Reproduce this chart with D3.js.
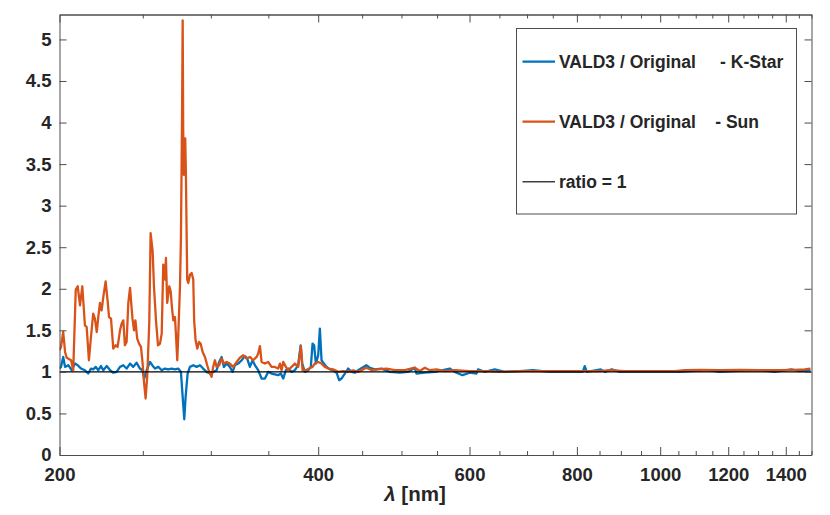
<!DOCTYPE html>
<html>
<head>
<meta charset="utf-8">
<script src="https://cdn.jsdelivr.net/npm/d3@7"></script>
<style>
  body { margin: 0; background: #fff; }
  svg text { font-family: "Liberation Sans", Arial, Helvetica, sans-serif; font-weight: bold; fill: #262626; }
</style>
</head>
<body>
<script>
// Wavelength [nm] and ratio for the Sun (VALD3 / Original)
let sunWavelength = [
  200.0, 200.8, 202.0, 203.0, 203.9, 206.3, 207.5, 208.9, 210.0, 211.3, 212.6, 214.1, 215.1, 216.4, 217.6,
  218.9, 219.9, 221.0, 221.9, 222.9, 223.9, 224.9, 226.3, 227.6, 228.4, 229.6, 231.0, 232.5, 233.7, 235.2,
  236.2, 237.3, 238.3, 239.4, 240.5, 241.6, 243.2, 244.2, 245.1, 246.3, 247.5, 248.8, 249.9, 250.8, 251.9,
  253.0, 254.4, 255.3, 256.7, 257.6, 259.0, 260.4, 261.8, 263.0, 264.1, 265.3, 266.0, 266.9, 268.4, 269.4,
  270.3, 271.3, 272.5, 273.2, 274.2, 274.9, 276.2, 276.9, 277.7, 278.2, 278.6, 279.1, 280.1, 280.6, 281.6,
  282.4, 283.7, 285.0, 286.2, 286.9, 288.0, 289.3, 290.6, 291.9, 293.5, 295.3, 297.1, 298.7, 300.6, 301.9,
  303.3, 304.7, 306.8, 308.8, 310.7, 313.0, 315.7, 318.5, 321.5, 324.3, 327.2, 330.2, 333.1, 336.1, 339.1,
  340.6, 342.2, 343.7, 346.8, 349.8, 353.0, 356.2, 359.3, 361.0, 362.6, 364.2, 366.8, 369.1, 372.5, 375.8,
  379.1, 380.8, 381.9, 383.6, 387.0, 390.4, 394.0, 396.4, 400.0, 403.6, 407.2, 410.8, 416.4, 422.0, 427.7,
  433.4, 439.3, 445.2, 455.0, 461.8, 469.3, 480.4, 491.2, 504.5, 518.2, 525.2, 532.3, 539.5, 549.2, 561.6,
  576.8, 600.4, 625.0, 650.6, 686.4, 724.2, 764.0, 806.1, 850.5, 873.6, 909.4, 972.4, 1039.8, 1068.0, 1111.7,
  1172.9, 1237.4, 1305.5, 1377.3, 1433.8, 1472.8, 1496.0
]
let sunRatio = [
  1.26, 1.30, 1.48, 1.24, 1.17, 1.14, 1.02, 1.99, 2.03, 1.80, 2.03, 1.56, 1.54, 1.14, 1.42,
  1.70, 1.64, 1.48, 1.66, 1.83, 1.74, 1.90, 2.09, 1.84, 1.66, 1.64, 1.28, 1.32, 1.30, 1.50,
  1.58, 1.62, 1.32, 1.36, 1.83, 2.01, 1.64, 1.50, 1.62, 1.40, 1.34, 1.30, 1.10, 0.88, 0.68,
  0.95, 1.60, 2.67, 2.45, 2.03, 1.62, 1.32, 1.34, 1.46, 2.29, 2.11, 2.37, 1.83, 2.03, 1.97,
  1.78, 1.62, 1.66, 1.46, 1.14, 1.42, 2.03, 2.60, 4.00, 5.23, 3.90, 3.37, 3.81, 3.40, 2.11,
  2.07, 2.17, 2.19, 2.11, 1.62, 1.38, 1.28, 1.36, 1.34, 1.24, 1.18, 1.08, 1.00, 0.94, 1.06,
  1.14, 1.06, 1.08, 1.16, 1.10, 1.12, 1.10, 1.06, 1.12, 1.17, 1.20, 1.16, 1.18, 1.14, 1.18,
  1.22, 1.31, 1.12, 1.10, 1.12, 1.06, 1.06, 1.04, 1.10, 1.02, 1.12, 1.06, 1.02, 1.06, 1.10,
  1.06, 1.22, 1.31, 1.02, 1.02, 1.04, 1.06, 1.10, 1.12, 1.10, 1.06, 1.04, 1.03, 1.00, 1.01,
  1.00, 1.02, 1.00, 1.05, 1.02, 1.03, 1.04, 1.02, 1.02, 1.05, 1.01, 1.05, 1.02, 1.03, 1.01,
  1.02, 1.01, 1.01, 1.00, 1.01, 1.01, 1.01, 1.01, 1.01, 1.02, 1.01, 1.01, 1.01, 1.02, 1.025,
  1.02, 1.025, 1.02, 1.02, 1.025, 1.03, 1.04
]

// Wavelength [nm] and ratio for the K-Star (VALD3 / Original)
let kstarWavelength = [
  200.0, 200.8, 202.0, 203.0, 204.8, 206.6, 208.5, 210.0, 211.9, 214.1, 216.0, 217.6, 218.9, 220.4, 221.9,
  223.5, 224.9, 227.0, 229.0, 231.0, 233.1, 235.2, 237.3, 239.4, 241.6, 243.7, 245.9, 248.1, 249.7, 251.0,
  252.6, 254.9, 256.4, 258.3, 260.6, 263.0, 265.3, 267.6, 270.1, 272.5, 274.9, 276.9, 278.2, 279.4, 280.4,
  281.9, 283.7, 286.2, 288.8, 291.4, 293.9, 296.6, 299.3, 301.9, 304.7, 306.8, 308.8, 310.7, 313.0, 315.7,
  318.0, 320.0, 322.8, 325.8, 328.7, 330.7, 333.1, 335.5, 337.6, 340.6, 343.7, 346.8, 349.8, 353.0, 356.2,
  359.3, 361.9, 364.2, 366.8, 369.1, 372.5, 375.8, 379.1, 381.6, 383.2, 386.0, 389.4, 392.2, 394.0, 395.7,
  397.5, 400.0, 401.8, 403.6, 406.1, 409.1, 412.7, 416.4, 420.2, 423.1, 425.8, 429.6, 433.4, 437.4, 441.3,
  445.2, 455.0, 459.4, 465.6, 474.0, 484.6, 497.8, 508.6, 518.2, 520.6, 532.3, 546.8, 569.1, 576.8, 588.8,
  600.4, 611.3, 613.9, 625.0, 642.0, 659.4, 686.4, 711.3, 743.9, 784.8, 812.6, 817.0, 821.4, 852.8, 862.0,
  878.3, 897.3, 972.4, 1053.8, 1135.8, 1172.9, 1276.8, 1311.0, 1359.0, 1421.2, 1453.2, 1496.0
]
let kstarRatio = [
  1.04, 1.06, 1.18, 1.06, 1.08, 1.02, 1.10, 1.08, 1.04, 1.02, 0.98, 1.04, 1.03, 1.06, 1.02,
  1.07, 1.02, 1.07, 1.02, 0.99, 1.00, 1.06, 1.08, 1.04, 1.10, 1.06, 1.11, 1.04, 1.02, 0.92,
  1.02, 1.12, 1.08, 1.04, 1.06, 1.02, 1.04, 1.03, 1.04, 1.03, 1.04, 1.00, 0.70, 0.43, 0.70,
  0.98, 1.06, 1.08, 1.06, 1.08, 1.04, 1.00, 0.98, 1.00, 1.02, 1.12, 1.18, 1.06, 1.10, 1.06,
  1.00, 1.08, 1.10, 1.14, 1.19, 1.16, 1.06, 1.14, 1.08, 1.02, 0.92, 0.92, 1.00, 0.98, 0.97,
  0.96, 0.98, 0.92, 1.02, 1.04, 1.00, 1.02, 1.08, 1.32, 1.10, 1.00, 1.02, 1.06, 1.34, 1.32,
  1.10, 1.20, 1.52, 1.14, 1.10, 1.06, 1.03, 1.02, 0.99, 0.90, 0.92, 0.98, 1.04, 1.00, 0.99,
  1.02, 1.08, 1.05, 1.03, 1.04, 1.00, 0.99, 1.00, 1.05, 0.98, 0.99, 1.00, 1.04, 1.00, 0.96,
  0.99, 0.98, 1.03, 1.00, 1.03, 1.00, 1.01, 1.02, 1.00, 1.00, 1.00, 1.07, 1.00, 1.03, 1.00,
  1.03, 1.00, 1.00, 1.00, 1.02, 1.00, 1.02, 1.02, 1.00, 1.03, 1.01, 1.02
]

// Axis ticks and legend
let xLimits = [200, 1500]
let yLimits = [0, 5.3]
let xMajorTicks = [200, 400, 600, 800, 1000, 1200, 1400]
let xMinorTicks = d3.range(250, 1501, 50)
let yTicks = [0, 0.5, 1, 1.5, 2, 2.5, 3, 3.5, 4, 4.5, 5]
let legendLabels = ['VALD3 / Original     - K-Star', 'VALD3 / Original    - Sun', 'ratio = 1']
let colors = ['#0072BD', '#D95319', '#000000']

function createRatioChart() {
  let width = 830
  let height = 515
  let plot = {left: 59.5, top: 14.5, right: 811.5, bottom: 455}

  let svg = d3.select('body').append('svg')
    .attr('width', width)
    .attr('height', height)

  // Scales: logarithmic wavelength, linear ratio
  let x = d3.scaleLog().domain(xLimits).range([plot.left, plot.right])
  let y = d3.scaleLinear().domain(yLimits).range([plot.bottom, plot.top])

  svg.append('clipPath').attr('id', 'plotClip')
    .append('rect')
    .attr('x', plot.left).attr('y', plot.top)
    .attr('width', plot.right - plot.left).attr('height', plot.bottom - plot.top)

  let lineGen = d3.line()
    .x(d => x(d[0]))
    .y(d => y(d[1]))

  let kstar = kstarWavelength.map((w, i) => [w, kstarRatio[i]])
  let sun = sunWavelength.map((w, i) => [w, sunRatio[i]])

  let lines = svg.append('g').attr('clip-path', 'url(#plotClip)')

  lines.append('path')
    .datum(kstar)
    .attr('d', lineGen)
    .attr('fill', 'none')
    .attr('stroke', colors[0])
    .attr('stroke-width', 2.3)
    .attr('stroke-linejoin', 'round')

  lines.append('path')
    .datum(sun)
    .attr('d', lineGen)
    .attr('fill', 'none')
    .attr('stroke', colors[1])
    .attr('stroke-width', 2.3)
    .attr('stroke-linejoin', 'round')

  // ratio = 1 reference line
  lines.append('path')
    .datum(xLimits.map(w => [w, 1]))
    .attr('d', lineGen)
    .attr('stroke', colors[2])
    .attr('stroke-width', 1.4)

  // Axes (ticks pointing inside, box all round)
  let axisColor = '#4d4d4d'
  let minorOnly = xMinorTicks.filter(v => xMajorTicks.indexOf(v) < 0)

  svg.append('g')
    .attr('transform', `translate(0,${plot.bottom})`)
    .call(d3.axisBottom(x).tickValues(xMajorTicks).tickSize(-8).tickSizeOuter(0)
      .tickPadding(13).tickFormat(d3.format('d')))
  svg.append('g')
    .attr('transform', `translate(0,${plot.bottom})`)
    .call(d3.axisBottom(x).tickValues(minorOnly).tickSize(-4).tickSizeOuter(0).tickFormat(''))
  svg.append('g')
    .attr('transform', `translate(0,${plot.top})`)
    .call(d3.axisTop(x).tickValues(xMajorTicks).tickSize(-8).tickSizeOuter(0).tickFormat(''))
  svg.append('g')
    .attr('transform', `translate(0,${plot.top})`)
    .call(d3.axisTop(x).tickValues(minorOnly).tickSize(-4).tickSizeOuter(0).tickFormat(''))

  svg.append('g')
    .attr('transform', `translate(${plot.left},0)`)
    .call(d3.axisLeft(y).tickValues(yTicks).tickSize(-7).tickSizeOuter(0)
      .tickPadding(8).tickFormat(d3.format('')))
  svg.append('g')
    .attr('transform', `translate(${plot.right},0)`)
    .call(d3.axisRight(y).tickValues(yTicks).tickSize(-7).tickSizeOuter(0).tickFormat(''))

  svg.selectAll('.domain, .tick line')
    .attr('stroke', axisColor)
    .attr('stroke-width', 1)

  svg.selectAll('.tick text')
    .style('font-size', '18.5px')
    .attr('fill', '#262626')

  // Axis label
  let xLabel = svg.append('text')
    .attr('x', 415)
    .attr('y', 501)
    .attr('text-anchor', 'middle')
    .style('font-size', '20.5px')
  xLabel.append('tspan').style('font-style', 'italic').text('λ')
  xLabel.append('tspan').text(' [nm]')

  // Legend
  let legend = svg.append('g').attr('class', 'legend')
  legend.append('rect')
    .attr('x', 516.5).attr('y', 28.5)
    .attr('width', 280).attr('height', 185.5)
    .attr('fill', '#fff')
    .attr('stroke', axisColor)
    .attr('stroke-width', 1)

  legendLabels.forEach((label, i) => {
    let ly = 61.7 + i * 60
    legend.append('line')
      .attr('x1', 522.5).attr('x2', 555)
      .attr('y1', ly).attr('y2', ly)
      .attr('stroke', i === 2 ? '#404040' : colors[i])
      .attr('stroke-width', i === 2 ? 1.4 : 2.3)
    legend.append('text')
      .attr('x', 559)
      .attr('y', ly)
      .attr('dy', '0.35em')
      .attr('xml:space', 'preserve')
      .style('white-space', 'pre')
      .style('font-size', '17.5px')
      .text(label)
  })
}

createRatioChart()
</script>
</body>
</html>
